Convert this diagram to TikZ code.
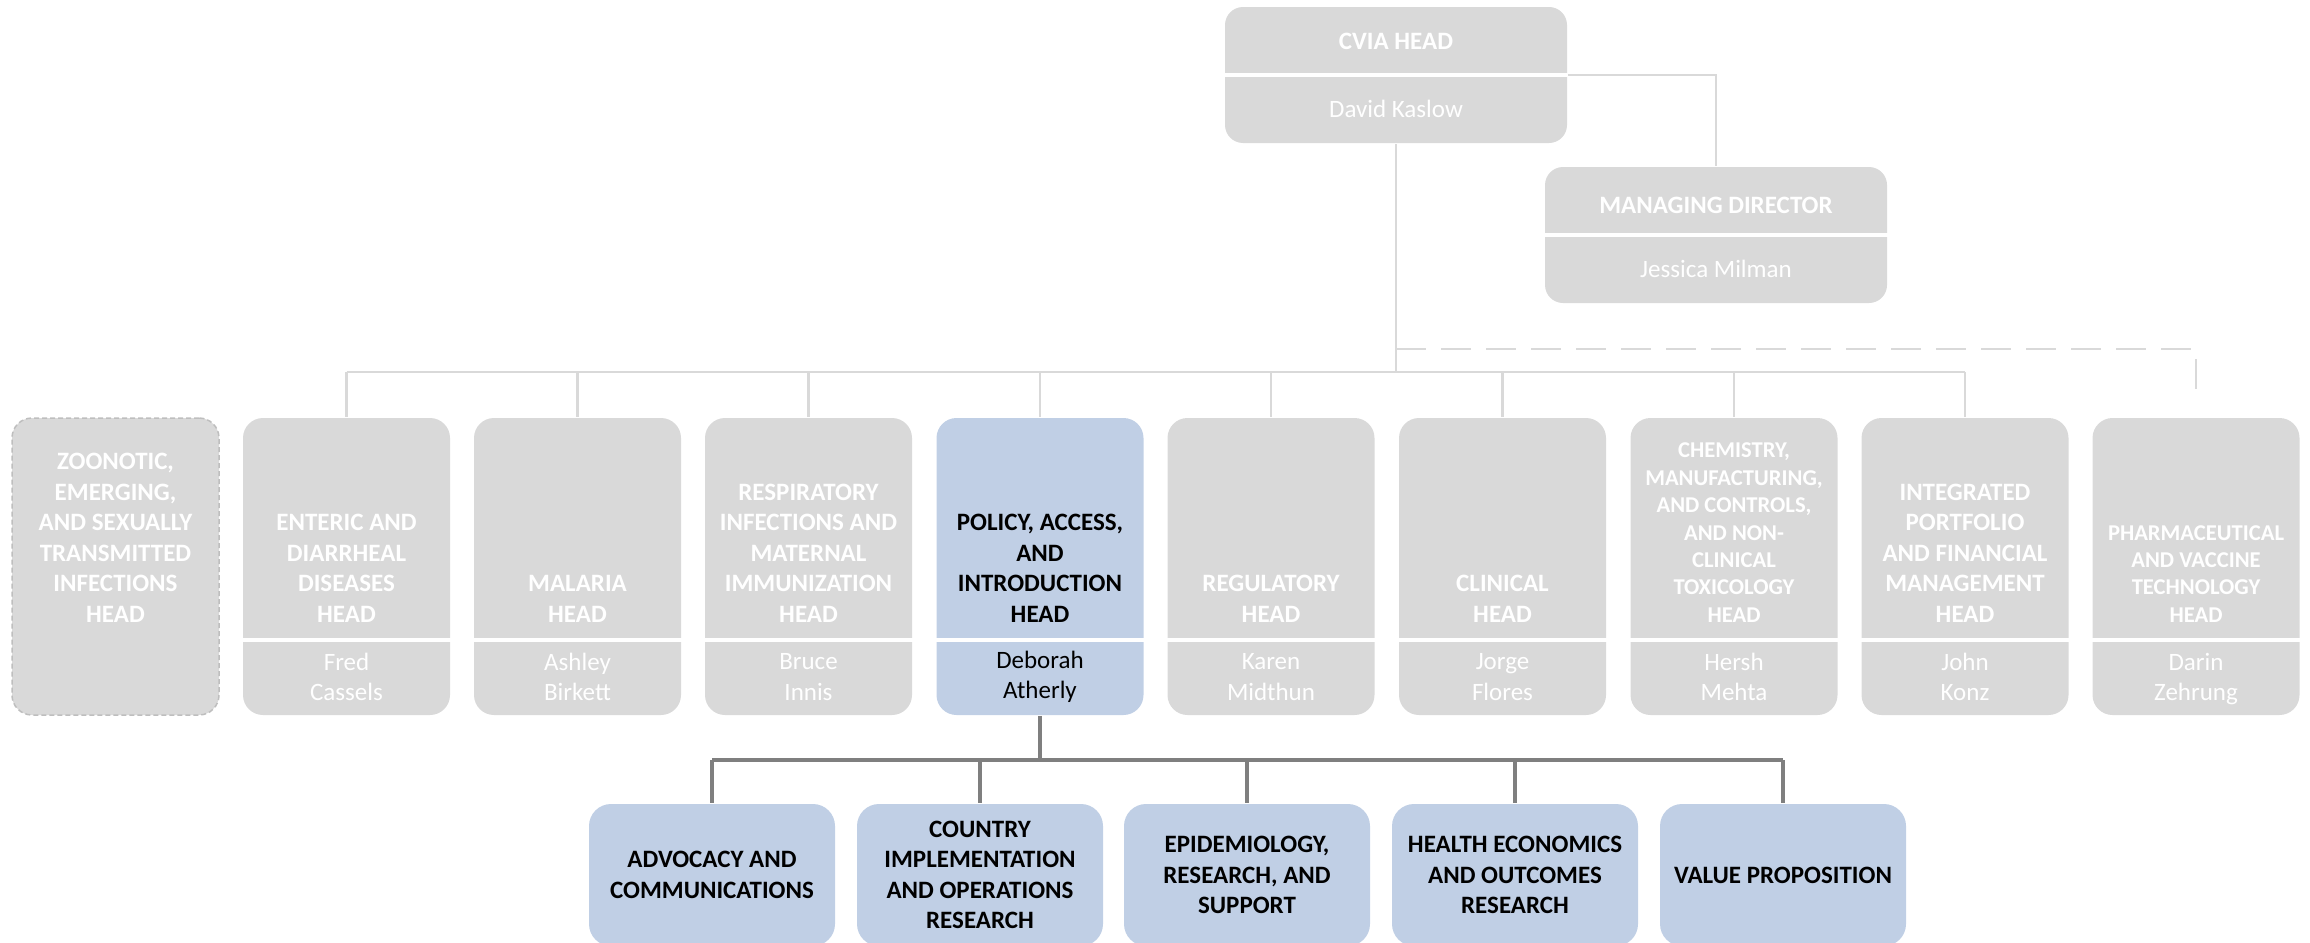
\documentclass[tikz,border=0pt]{standalone}
\usepackage{fontspec}
\setmainfont{Carlito}

\definecolor{boxgray}{RGB}{217,217,217}
\definecolor{boxblue}{RGB}{192,207,229}
\definecolor{linedark}{RGB}{127,127,127}
\definecolor{zooedge}{RGB}{190,190,190}

\tikzset{every picture/.style={line width=0.75pt}}

\begin{document}
\begin{tikzpicture}[x=0.5pt,y=0.5pt,yscale=-1,xscale=1,
	topbox/.style={fill=boxgray,rounded corners=9pt,minimum width=171pt,minimum height=68pt,inner sep=0pt},
	unitbox/.style={fill=boxgray,rounded corners=10pt,minimum width=103.5pt,minimum height=148.5pt,inner sep=0pt},
	teambox/.style={fill=boxblue,rounded corners=11pt,minimum width=123pt,minimum height=71pt,inner sep=0pt},
	divider/.style={draw=white,line width=2.25pt},
	graylink/.style={draw=boxgray,line width=1.4pt},
	darklink/.style={draw=linedark,line width=1.75pt},
	headtext/.style={font=\fontsize{12.5}{15.25}\selectfont\bfseries,text=white,align=center,inner sep=0pt},
	smallhead/.style={headtext,font=\fontsize{11.3}{13.7}\selectfont\bfseries},
	nametext/.style={font=\fontsize{12.5}{15.25}\selectfont,text=white,align=center,inner sep=0pt},
	teamtext/.style={headtext,text=black}
	]
	\useasboundingbox (0,0) rectangle (2310,942);
	\clip (0,0) rectangle (2310,942);

	%Helper rows
	\coordinate (bus) at (0,372);
	\coordinate (dashrow) at (0,349);
	\coordinate (dashend) at (2196,402);
	\coordinate (rowdiv) at (0,640);
	\coordinate (teambus) at (0,760);

	%Shape: Rounded Rect [CVIA head]
	\node [topbox] (cvia) at (1396,75) {};
	\draw [divider] (cvia.west) -- (cvia.east);
	%Shape: Rounded Rect [managing director]
	\node [topbox] (md) at (1716,235) {};
	\draw [divider] (md.west) -- (md.east);

	%Shape: Rounded Rect [zoonotic, dashed]
	\node [unitbox,draw=zooedge,line width=0.75pt,dash pattern=on 2.5pt off 1.5pt] (zoo) at (115.5,566.5) {};
	%Shape: Rounded Rect [units]
	\node [unitbox] (enteric) at (346.5,566.5) {};
	\node [unitbox] (malaria) at (577.5,566.5) {};
	\node [unitbox] (resp) at (808.5,566.5) {};
	\node [unitbox,fill=boxblue] (policy) at (1040,566.5) {};
	\node [unitbox] (reg) at (1271,566.5) {};
	\node [unitbox] (clinical) at (1502.5,566.5) {};
	\node [unitbox] (chem) at (1734,566.5) {};
	\node [unitbox] (integ) at (1965,566.5) {};
	\node [unitbox] (pharma) at (2196,566.5) {};
	%Straight Lines [dividers]
	\draw [divider] (enteric.west |- rowdiv) -- (enteric.east |- rowdiv);
	\draw [divider] (malaria.west |- rowdiv) -- (malaria.east |- rowdiv);
	\draw [divider] (resp.west |- rowdiv) -- (resp.east |- rowdiv);
	\draw [divider] (policy.west |- rowdiv) -- (policy.east |- rowdiv);
	\draw [divider] (reg.west |- rowdiv) -- (reg.east |- rowdiv);
	\draw [divider] (clinical.west |- rowdiv) -- (clinical.east |- rowdiv);
	\draw [divider] (chem.west |- rowdiv) -- (chem.east |- rowdiv);
	\draw [divider] (integ.west |- rowdiv) -- (integ.east |- rowdiv);
	\draw [divider] (pharma.west |- rowdiv) -- (pharma.east |- rowdiv);

	%Shape: Rounded Rect [teams]
	\node [teambox] (advocacy) at (712,875) {};
	\node [teambox] (country) at (980,875) {};
	\node [teambox] (epi) at (1247,875) {};
	\node [teambox] (heor) at (1515,875) {};
	\node [teambox] (value) at (1783,875) {};

	%Straight Lines [top links]
	\draw [graylink] (cvia.east) -| (md.north);
	\draw [graylink] (cvia.south) -- (cvia.south |- bus);
	\draw [graylink] (enteric.north |- bus) -- (integ.north |- bus);
	\draw [graylink,dash pattern=on 15pt off 7.5pt] (cvia.south |- dashrow) -| (dashend);
	%Straight Lines [unit drops]
	\draw [graylink] (enteric.north |- bus) -- (enteric.north);
	\draw [graylink] (malaria.north |- bus) -- (malaria.north);
	\draw [graylink] (resp.north |- bus) -- (resp.north);
	\draw [graylink] (policy.north |- bus) -- (policy.north);
	\draw [graylink] (reg.north |- bus) -- (reg.north);
	\draw [graylink] (clinical.north |- bus) -- (clinical.north);
	\draw [graylink] (chem.north |- bus) -- (chem.north);
	\draw [graylink] (integ.north |- bus) -- (integ.north);
	%Straight Lines [team links]
	\draw [darklink] (policy.south) -- (policy.south |- teambus);
	\draw [darklink] (advocacy.north |- teambus) -- (value.north |- teambus);
	\draw [darklink] (advocacy.north |- teambus) -- (advocacy.north);
	\draw [darklink] (country.north |- teambus) -- (country.north);
	\draw [darklink] (epi.north |- teambus) -- (epi.north);
	\draw [darklink] (heor.north |- teambus) -- (heor.north);
	\draw [darklink] (value.north |- teambus) -- (value.north);

	% Text Node
	\node [headtext] (cviat) at (1396,41) {CVIA HEAD};
	% Text Node
	\node [nametext] (cvian) at (1396,109) {David Kaslow};
	% Text Node
	\node [headtext] (mdt) at (1716,205) {MANAGING DIRECTOR};
	% Text Node
	\node [nametext] (mdn) at (1716,269) {Jessica Milman};

	% Text Node
	\node [headtext,anchor=south] (zoot) at (115.5,623) {ZOONOTIC,\\EMERGING,\\AND SEXUALLY\\TRANSMITTED\\INFECTIONS\\HEAD};
	% Text Node
	\node [headtext,anchor=south] (enterict) at (346.5,623) {ENTERIC AND\\DIARRHEAL\\DISEASES\\HEAD};
	\node [nametext] (entericn) at (346.5,677) {Fred\\Cassels};
	% Text Node
	\node [headtext,anchor=south] (malariat) at (577.5,623) {MALARIA\\HEAD};
	\node [nametext] (malarian) at (577.5,677) {Ashley\\Birkett};
	% Text Node
	\node [headtext,anchor=south] (respt) at (808.5,623) {RESPIRATORY\\INFECTIONS AND\\MATERNAL\\IMMUNIZATION\\HEAD};
	\node [nametext] (respn) at (808.5,677) {Bruce\\Innis};
	% Text Node
	\node [teamtext,anchor=south] (policyt) at (1040,623) {POLICY, ACCESS,\\AND\\INTRODUCTION\\HEAD};
	\node [nametext,text=black] (policyn) at (1040,677) {Deborah\\Atherly};
	% Text Node
	\node [headtext,anchor=south] (regt) at (1271,623) {REGULATORY\\HEAD};
	\node [nametext] (regn) at (1271,677) {Karen\\Midthun};
	% Text Node
	\node [headtext,anchor=south] (clinicalt) at (1502.5,623) {CLINICAL\\HEAD};
	\node [nametext] (clinicaln) at (1502.5,677) {Jorge\\Flores};
	% Text Node
	\node [smallhead,anchor=south] (chemt) at (1734,623) {CHEMISTRY,\\MANUFACTURING,\\AND CONTROLS,\\AND NON-\\CLINICAL\\TOXICOLOGY\\HEAD};
	\node [nametext] (chemn) at (1734,677) {Hersh\\Mehta};
	% Text Node
	\node [headtext,anchor=south] (integt) at (1965,623) {INTEGRATED\\PORTFOLIO\\AND FINANCIAL\\MANAGEMENT\\HEAD};
	\node [nametext] (integn) at (1965,677) {John\\Konz};
	% Text Node
	\node [smallhead,anchor=south] (pharmat) at (2196,623) {PHARMACEUTICAL\\AND VACCINE\\TECHNOLOGY\\HEAD};
	\node [nametext] (pharman) at (2196,679) {Darin\\Zehrung};

	% Text Node
	\node [teamtext] (advocacyt) at (712,875) {ADVOCACY AND\\COMMUNICATIONS};
	% Text Node
	\node [teamtext] (countryt) at (980,875) {COUNTRY\\IMPLEMENTATION\\AND OPERATIONS\\RESEARCH};
	% Text Node
	\node [teamtext] (epit) at (1247,875) {EPIDEMIOLOGY,\\RESEARCH, AND\\SUPPORT};
	% Text Node
	\node [teamtext] (heort) at (1515,875) {HEALTH ECONOMICS\\AND OUTCOMES\\RESEARCH};
	% Text Node
	\node [teamtext] (valuet) at (1783,875) {VALUE PROPOSITION};

\end{tikzpicture}
\end{document}
